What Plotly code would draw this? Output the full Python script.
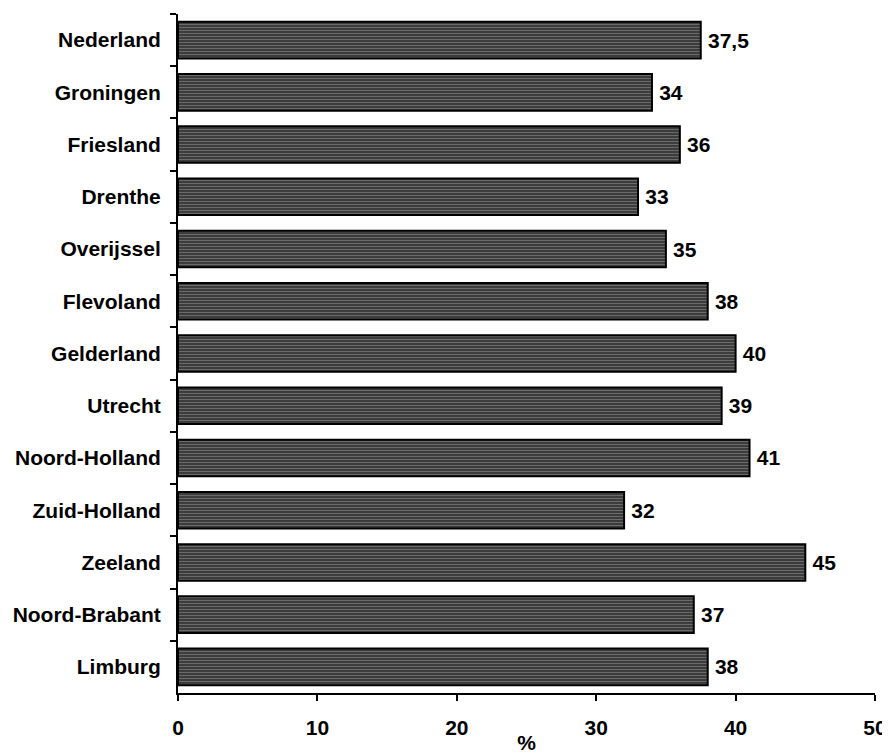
import plotly.graph_objects as go

categories = ["Nederland", "Groningen", "Friesland", "Drenthe", "Overijssel", "Flevoland",
              "Gelderland", "Utrecht", "Noord-Holland", "Zuid-Holland", "Zeeland",
              "Noord-Brabant", "Limburg"]
values = [37.5, 34, 36, 33, 35, 38, 40, 39, 41, 32, 45, 37, 38]
value_labels = ["37,5", "34", "36", "33", "35", "38", "40", "39", "41", "32", "45", "37", "38"]
x_ticks = [0, 10, 20, 30, 40, 50]

FONT = "Liberation Sans, Arial, sans-serif"
FS = 21

# thin space to widen the gap between bar end and its label
bar_text = ["\u2009" + t for t in value_labels]

fig = go.Figure()
fig.add_trace(go.Bar(
    y=categories, x=values, orientation="h",
    text=bar_text, textposition="outside", cliponaxis=False, constraintext="none",
    textfont=dict(family=FONT, size=FS, color="black", weight="bold"),
    marker=dict(
        color="#3c3c3c",
        line=dict(color="black", width=2),
        pattern=dict(shape="-", fgcolor="#9a9a9a", bgcolor="#3c3c3c", size=3, solidity=0.35),
    ),
    showlegend=False,
))

# page body has an 8px margin, so the figure is 8px smaller and offset
fig.update_layout(
    width=882, height=746,
    margin=dict(l=170, r=15, t=6, b=61),
    plot_bgcolor="white", paper_bgcolor="white",
    bargap=0.3,
    font=dict(family=FONT, size=FS, color="black", weight="bold"),
    xaxis=dict(
        range=[0, 50], tickvals=x_ticks, ticks="outside", ticklen=6, tickwidth=2,
        tickcolor="black", showline=True, linecolor="black", linewidth=2,
        showgrid=False, zeroline=False, automargin=False,
        tickfont=dict(family=FONT, size=FS, color="black", weight="bold"),
        ticklabelstandoff=9,
        title=dict(text="%", font=dict(family=FONT, size=FS, color="black", weight="bold"), standoff=0),
    ),
    yaxis=dict(
        categoryorder="array", categoryarray=categories, autorange="reversed",
        tickson="boundaries", ticks="outside", ticklen=6, tickwidth=2, tickcolor="black",
        showline=True, linecolor="black", linewidth=2, showgrid=False, zeroline=False,
        automargin=False,
        tickfont=dict(family=FONT, size=FS, color="black", weight="bold"),
        ticklabelstandoff=11,
    ),
    xaxis2=dict(
        overlaying="x", anchor="y", side="bottom", range=[0, 50], tickvals=x_ticks,
        ticks="inside", ticklen=6, tickwidth=2, tickcolor="black",
        showticklabels=False, showgrid=False, zeroline=False, showline=False,
    ),
    yaxis2=dict(
        overlaying="y", anchor="x", side="left", range=[12.5, -0.5],
        tickmode="linear", tick0=-0.5, dtick=1,
        ticks="inside", ticklen=6, tickwidth=2, tickcolor="black",
        showticklabels=False, showgrid=False, zeroline=False, showline=False,
    ),
)

fig.write_html("out.html")
